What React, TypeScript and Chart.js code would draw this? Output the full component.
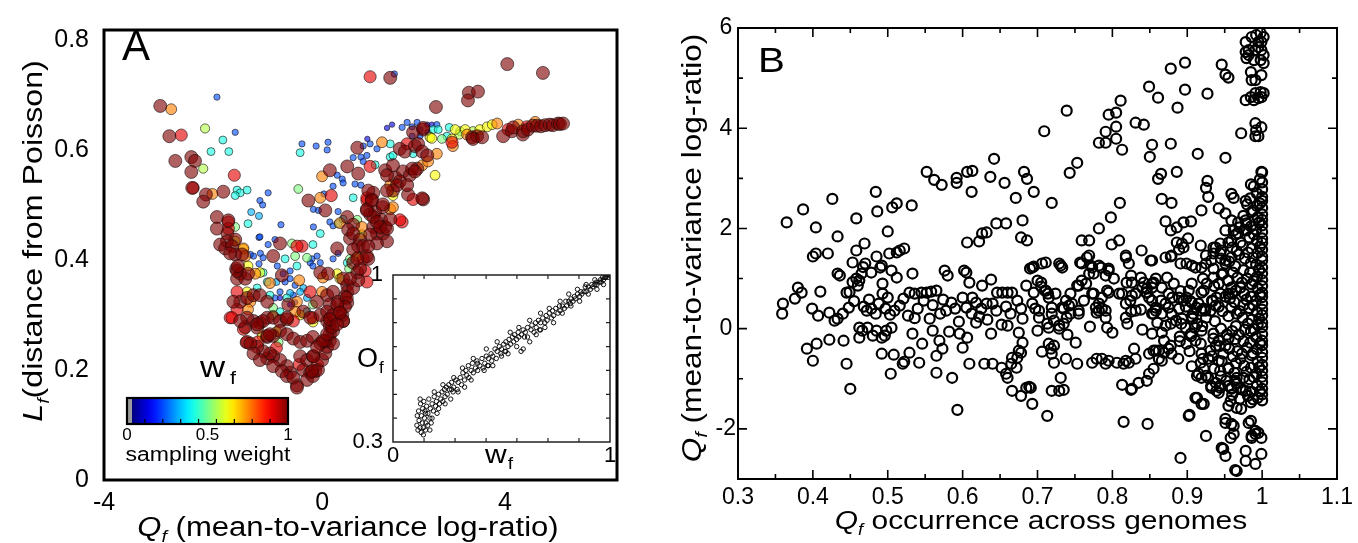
import React, { useEffect, useRef } from "react";
import { Chart, registerables } from "chart.js";
Chart.register(...registerables);

const FONT = "'Liberation Sans', Arial, Helvetica, sans-serif";

// ---------------- Panel A : Q_f (x) vs L_f (y), grouped by sampling weight w_f ----------------
const aXRange = [-4.77, 6.45];
const aYRange = [0, 0.818];
const aTicksX = [-4.77, 0, 4];
const aTickLabelsX = ["-4", "0", "4"];
const aTicksY = [0, 0.2, 0.4, 0.6, 0.8];

const ptsW100 = [
  [-3.54, .68], [-3.34, .625], [-3.21, .58], [-2.86, .587], [-2.78, .58], [-2.86, .56], [-2.54, .519], [-2.60, .506], [-2.16, .524], [-2.84, .531],
  [-2.30, .478], [-2.30, .457], [-2.07, .448], [-1.90, .437], [-2.08, .434], [-2.23, .428], [-2.12, .421], [-1.97, .425], [-1.90, .41], [-2.01, .412],
  [-1.75, .41], [-1.88, .384], [-1.79, .375], [-1.86, .366], [-1.68, .366], [-1.86, .38], [-1.84, .389], [-1.62, .375], [-0.92, .43], [-1.07, .407],
  [-0.88, .372], [-2.05, .472], [-1.79, .324], [-1.64, .331], [-1.50, .336], [-1.36, .336], [-1.20, .324], [-0.74, .319], [-0.11, .324], [0.11, .336],
  [0.17, .319], [-1.94, .324], [-1.68, .278], [-1.64, .251], [-1.50, .289], [-1.36, .286], [-1.42, .277], [-1.20, .295], [-1.64, .295], [-1.79, .289],
  [-1.29, .289], [-1.42, .283], [-1.07, .295], [-0.92, .289], [-0.77, .292],
  [-0.48, .225], [-0.33, .218], [-0.20, .225], [-0.41, .20], [-0.26, .195], [-0.15, .198], [-0.55, .172], [-0.70, .195], [-0.77, .207], [-0.92, .218],
  [-1.07, .225], [-1.20, .221], [-1.14, .23], [-1.29, .234], [-1.42, .242], [-1.57, .248], [-1.50, .23], [-1.36, .218], [-1.07, .207], [-0.88, .198],
  [-0.77, .189], [-0.63, .186], [-0.33, .182], [-0.20, .189], [-0.09, .20], [0.00, .218], [0.07, .23], [0.11, .242], [0.17, .253], [-1.20, .26],
  [-1.07, .262], [-0.92, .271], [-0.77, .265], [-0.63, .257], [-0.48, .251], [-0.33, .253], [-0.20, .26], [-0.04, .248], [0.17, .265], [0.24, .248],
  [0.07, .253], [0.11, .289], [0.17, .28], [0.24, .271], [-0.77, .295], [-0.04, .30], [0.11, .306], [0.24, .30], [-0.41, .306], [-0.26, .295],
  [0.44, .30], [0.46, .289], [-1.20, .262], [-1.14, .265], [-0.55, .168], [-0.22, .198], [-0.19, .225], [-0.11, .242], [0.02, .253], [0.11, .265],
  [0.22, .278], [0.17, .292],
  [0.07, .49], [0.17, .563], [0.55, .57], [0.77, .604], [0.79, .557], [1.38, .563], [1.60, .55], [1.09, .51], [1.12, .522], [1.01, .526],
  [0.98, .492], [1.05, .483], [1.16, .487], [1.33, .496], [1.29, .473], [1.38, .46], [1.12, .46], [1.20, .448], [1.05, .446], [1.33, .448],
  [1.42, .434], [1.20, .43], [0.55, .478], [0.68, .464], [0.57, .455], [0.61, .439], [0.68, .448], [0.83, .437], [0.79, .425], [0.68, .419],
  [0.90, .425], [1.01, .402], [0.55, .354], [0.55, .342], [0.68, .349], [0.46, .366], [0.50, .333], [0.55, .322], [0.24, .342], [0.35, .324],
  [0.46, .289], [0.33, .283], [-0.04, .377], [0.13, .375], [0.33, .421], [0.68, .395], [0.77, .377], [0.79, .363], [-0.30, .508], [0.61, .366],
  [0.83, .384], [0.54, .331], [0.50, .315], [0.33, .319], [0.39, .304], [0.98, .407], [0.77, .402], [1.01, .425], [1.12, .478], [1.20, .469],
  [1.27, .46], [1.42, .457], [0.98, .49], [1.09, .508], [1.49, .474], [1.33, .501], [2.21, .51], [1.77, .561], [2.08, .566], [1.92, .554],
  [1.70, .602], [1.81, .597], [2.03, .607], [2.10, .611], [2.21, .637], [2.19, .597], [2.30, .59], [1.97, .566], [2.03, .561], [2.19, .512],
  [1.55, .572], [1.42, .554], [1.70, .543], [1.64, .536], [1.55, .526], [1.42, .526], [1.88, .519], [1.86, .536], [1.99, .632], [2.21, .64],
  [3.28, .623], [3.39, .625], [3.30, .62], [3.50, .623], [3.96, .625], [4.15, .634], [4.18, .641], [4.39, .628], [4.40, .634], [4.50, .637],
  [4.61, .644], [4.70, .644], [4.79, .643], [4.88, .645], [4.98, .646], [5.05, .645], [5.16, .648], [5.20, .647], [5.27, .648],
  [1.49, .731], [2.49, .678], [3.21, .704], [3.41, .706], [3.19, .69], [4.05, .756], [4.83, .74],
];
const ptsW90 = [
  [-3.08, .627], [-1.92, .554], [-2.82, .531], [-2.05, .469], [-0.44, .425], [0.20, .517], [0.98, .508], [1.75, .469], [1.86, .611], [4.07, .637],
  [4.48, .642], [-1.86, .342], [-2.01, .295], [-1.86, .31], [-1.40, .251], [-1.66, .25], [-1.72, .274], [-1.97, .295], [-0.63, .289], [-0.20, .295],
  [0.17, .295], [-0.26, .342], [-0.55, .425], [0.90, .402], [0.94, .38], [0.98, .36], [0.39, .306], [1.05, .733], [-2.05, .457], [2.84, .614],
  [1.05, .57], [1.70, .473], [1.99, .51], [0.98, .513], [-0.50, .21], [-0.10, .21], [-1.0, .24],
];
const ptsW75 = [
  [-3.30, .674], [-2.40, .52], [-1.72, .421], [-1.68, .407], [-1.46, .375], [-1.57, .324], [-0.50, .363], [-0.55, .324], [0.02, .368], [0.00, .552],
  [0.39, .467], [0.87, .46], [1.31, .614], [1.49, .492], [1.49, .536], [2.51, .593], [2.19, .572], [3.17, .628], [3.83, .648], [4.29, .646],
  [4.66, .651], [2.86, .607], [-1.14, .358], [-1.62, .31], [-0.59, .306], [0.00, .342], [-0.04, .513], [2.32, .579], [1.55, .496],
];
const ptsW62 = [
  [-1.90, .434], [-1.72, .42], [-1.36, .377], [-1.64, .342], [-1.31, .262], [-0.48, .30], [-0.20, .287], [0.33, .375], [0.39, .366], [0.87, .446],
  [0.77, .407], [2.47, .554], [1.55, .517], [2.36, .623], [2.91, .637], [3.13, .637], [3.45, .637], [3.61, .642], [3.72, .646], [2.84, .62],
  [2.40, .621], [-1.62, .389], [-1.0, .27],
];
const ptsW55 = [[-2.60, .566], [-2.56, .639], [3.30, .634], [-1.07, .30], [3.00, .628]];
const ptsW50 = [
  [-1.90, .46], [-0.66, .43], [-0.59, .407], [-0.33, .404], [0.61, .402], [0.59, .384], [0.77, .473], [-0.52, .529], [-0.20, .319], [2.62, .62],
  [3.02, .634], [-1.07, .313], [-0.95, .25],
];
const ptsW40 = [
  [-2.17, .618], [-2.04, .597], [-2.43, .597], [-1.86, .527], [-1.79, .522], [-1.64, .527], [-1.90, .517], [-1.62, .466], [-1.29, .377], [-1.20, .36],
  [-0.55, .389], [-0.81, .402], [-0.20, .428], [0.35, .466], [0.46, .474], [0.55, .395], [0.68, .513], [1.16, .573], [1.49, .611], [1.49, .587],
  [1.55, .59], [1.99, .593], [2.43, .637], [2.54, .637], [2.73, .625], [2.78, .641], [-1.42, .349], [-1.14, .336], [-0.77, .331], [-0.92, .306],
  [-0.33, .306], [-0.48, .595], [-0.04, .448],
];
const ptsW30 = [[-1.55, .487], [-1.38, .48], [-0.41, .349], [-0.33, .331], [-0.48, .342], [-1.0, .36], [-0.7, .34]];
const ptsW20 = [
  [-1.90, .632], [-2.30, .696], [-1.18, .522], [-1.36, .508], [-1.30, .50], [-0.90, .464], [-1.38, .441], [-1.18, .428], [-1.03, .437], [-1.50, .407],
  [-1.35, .412], [-1.38, .393], [-1.29, .404], [-0.98, .389], [-0.81, .36], [-0.22, .402], [-0.11, .407], [-0.04, .395], [0.24, .402], [0.35, .412],
  [0.17, .469], [0.35, .488], [0.04, .52], [0.24, .534], [0.33, .554], [0.44, .547], [0.46, .54], [0.68, .586], [0.85, .587], [0.90, .579],
  [0.98, .59], [0.90, .607], [1.05, .611], [1.20, .602], [0.72, .538], [0.85, .536], [-0.19, .492], [-0.08, .49], [0.24, .462], [-0.19, .46],
  [-0.44, .611], [-0.13, .607], [0.13, .614], [0.11, .60], [1.97, .625], [2.14, .625], [2.32, .632], [2.51, .646], [1.75, .641], [1.86, .65],
  [1.97, .642], [2.08, .65], [2.14, .637], [1.58, .738], [-1.03, .331], [-0.92, .342], [-0.63, .336], [-0.70, .366], [-0.59, .354], [-0.26, .395],
  [-0.20, .389], [-0.85, .375], [-0.70, .38], [-1.36, .442], [-1.57, .41],
];
const ptsW10 = [[1.42, .64], [1.53, .646], [2.40, .646], [2.30, .646], [-0.70, .319], [-0.59, .323], [-0.92, .331], [0.99, .62]];

const weightGroups = [
  { w: 1.0, pts: ptsW100 }, { w: 0.9, pts: ptsW90 }, { w: 0.75, pts: ptsW75 }, { w: 0.62, pts: ptsW62 }, { w: 0.55, pts: ptsW55 },
  { w: 0.5, pts: ptsW50 }, { w: 0.4, pts: ptsW40 }, { w: 0.3, pts: ptsW30 }, { w: 0.2, pts: ptsW20 }, { w: 0.1, pts: ptsW10 },
];
const colorbarTicks = [0, 0.5, 1];
const colorbarLabels = ["0", "0.5", "1"];

// ---------------- Inset : O_f vs w_f ----------------
const insetTickMarksX = [0.143, 0.286, 0.429, 0.571, 0.714, 0.857];
const insetTickMarksY = [0.4, 0.5, 0.6, 0.7, 0.8, 0.9];
const overlapPts = [
  [.11, .37], [.112, .41], [.115, .35], [.12, .39], [.118, .43], [.125, .36], [.127, .46], [.13, .34], [.131, .41], [.135, .38], [.137, .44], [.14, .36],
  [.142, .47], [.145, .40], [.147, .43], [.15, .35], [.152, .38], [.155, .45], [.16, .37], [.161, .42], [.165, .48], [.17, .40], [.172, .44], [.176, .38],
  [.18, .46], [.186, .43], [.19, .49], [.196, .45], [.20, .47], [.203, .42], [.21, .50], [.214, .46], [.22, .48], [.226, .51], [.23, .47], [.237, .52],
  [.24, .49], [.246, .53], [.25, .50], [.257, .54], [.26, .52], [.266, .48], [.27, .55], [.277, .51], [.28, .53], [.29, .56], [.296, .52], [.30, .55],
  [.31, .57], [.316, .54], [.322, .59], [.33, .56], [.336, .60], [.34, .58], [.347, .62], [.35, .57], [.36, .60], [.366, .63], [.37, .59], [.38, .61],
  [.387, .64], [.39, .60], [.40, .62], [.41, .65], [.415, .61], [.423, .63], [.43, .66], [.436, .62], [.44, .65], [.452, .67], [.455, .64], [.46, .66],
  [.47, .69], [.476, .65], [.48, .68], [.49, .70], [.497, .67], [.50, .69], [.51, .71], [.516, .68], [.52, .72], [.53, .70], [.535, .73], [.542, .71],
  [.55, .74], [.556, .72], [.56, .75], [.57, .73], [.577, .76], [.58, .74], [.59, .68], [.60, .69], [.592, .75], [.60, .77], [.606, .74], [.61, .76],
  [.62, .78], [.63, .72], [.636, .77], [.64, .79], [.65, .76], [.657, .80], [.66, .78], [.67, .81], [.676, .77], [.68, .80], [.69, .82], [.70, .80],
  [.706, .83], [.71, .81], [.72, .84], [.73, .82], [.736, .85], [.74, .83], [.75, .86], [.76, .84], [.767, .87], [.77, .85], [.78, .87], [.79, .86],
  [.796, .89], [.80, .87], [.81, .89], [.817, .88], [.82, .90], [.83, .89], [.836, .91], [.84, .90], [.85, .92], [.86, .91], [.866, .93], [.87, .92],
  [.88, .93], [.886, .95], [.89, .93], [.90, .95], [.91, .94], [.916, .96], [.92, .95], [.93, .96], [.937, .97], [.94, .96], [.95, .97], [.956, .98],
  [.96, .97], [.966, .99], [.97, .98], [.976, .99], [.98, .99], [.986, 1.0], [.99, .99], [.995, 1.0], [1.0, 1.0], [.44, .62], [.52, .68], [.68, .77],
  [.15, .42], [.18, .40], [.21, .44], [.24, .46], [.27, .52], [.30, .51], [.33, .53], [.36, .56], [.39, .63], [.42, .60], [.46, .62], [.50, .66],
  [.53, .67], [.57, .70], [.62, .74], [.66, .75], [.70, .78], [.74, .80], [.78, .84], [.82, .87], [.86, .89], [.90, .92], [.94, .94], [.97, .96],
  [.14, .33], [.17, .35], [.125, .48], [.19, .51], [.23, .54], [.28, .57], [.32, .61], [.37, .65], [.43, .69], [.48, .72], [.54, .76], [.58, .78],
  [.63, .81], [.68, .84], [.72, .86], [.77, .89], [.81, .92], [.85, .94], [.89, .96], [.93, .98],
];

// ---------------- Panel B : occurrence (x) vs Q_f (y) ----------------
const bTicksX = [0.3, 0.4, 0.5, 0.6, 0.7, 0.8, 0.9, 1.0, 1.1];
const bMinorX = [0.35, 0.45, 0.55, 0.65, 0.75, 0.85, 0.95, 1.05];
const bTicksY = [-2, 0, 2, 4, 6];
const bMinorY = [-3, -1, 1, 3, 5];

const occLeft = [
  [.360, .50], [.359, .30], [.380, .82], [.385, .72], [.376, .60], [.410, .74], [.399, .40], [.407, .26], [.422, .32], [.429, .16], [.433, .20], [.440, .30],
  [.445, .72], [.433, 1.10], [.436, 1.06], [.392, -.40], [.405, -.30], [.400, -.64], [.422, -.22], [.441, -.24], [.445, -.70], [.450, -1.20], [.365, 2.12],
  [.387, 2.38], [.404, 2.02], [.426, 2.59], [.433, 1.84], [.400, 1.44], [.404, 1.50], [.420, 1.50], [.458, 2.20], [.484, 2.73], [.486, 2.34], [.500, 1.94],
  [.506, 2.42], [.512, 2.50], [.532, 2.46], [.458, 1.56], [.469, 1.70], [.453, 1.32], [.470, 1.30], [.485, 1.44], [.490, 1.22], [.502, 1.50], [.512, 1.52],
  [.516, 1.56], [.522, 1.60], [.533, 1.10], [.462, .96], [.460, .86], [.465, 1.10], [.478, 1.12], [.492, 1.26], [.493, .90], [.493, .70], [.505, 1.16],
  [.512, 1.02], [.529, .72], [.536, .70], [.545, .72], [.552, .72], [.558, .74], [.565, .76], [.574, .58], [.576, 1.16], [.580, 1.06], [.449, .73],
  [.453, .93], [.458, 1.0], [.467, 1.23],
  [.468, .44], [.472, .36], [.478, .40], [.484, .30], [.488, .50], [.497, .40], [.503, .28], [.509, .36], [.516, .46], [.521, .60], [.527, .26], [.50, .62],
  [.475, .58], [.455, .55], [.448, .42], [.536, .21], [.540, .40], [.548, .56], [.556, .20], [.560, .47], [.570, .30], [.578, .36], [.585, .52], [.590, .40],
  [.595, .14],
  [.462, .02], [.462, -.18], [.466, -.04], [.473, .02], [.480, -.14], [.485, -.04], [.492, -.18], [.496, -.14], [.498, -.04], [.505, .02], [.492, -.50],
  [.508, -.52], [.520, -.70], [.522, -.66], [.529, -.48], [.542, -.68], [.504, -.90], [.533, -.10], [.546, -.30], [.560, -.04], [.569, -.24], [.573, -.40],
  [.565, -.54], [.565, -.88], [.586, -.98], [.582, -.06], [.596, -.10], [.593, -1.62],
  [.552, 3.13], [.562, 2.97], [.572, 2.87], [.592, 3.01], [.592, 2.91],
];
const occMid = [
  [.602, 1.16], [.605, 1.12], [.609, .92], [.600, .62], [.605, .42], [.613, .62], [.618, .52], [.626, .86], [.638, .98], [.622, .24], [.632, .50], [.640, .50],
  [.646, .72], [.653, .72], [.660, .72], [.666, .72], [.673, .56], [.678, .40], [.680, .20], [.685, .86], [.693, 1.22], [.695, .72], [.705, .92], [.706, 1.30],
  [.729, 1.30], [.733, 1.22], [.719, .42], [.719, .30], [.702, .36], [.702, .22], [.713, .10], [.715, .02], [.722, .16], [.729, .00], [.735, .10], [.739, .22],
  [.735, .40], [.742, .46], [.746, .50], [.755, .36], [.762, .56], [.753, .86], [.759, .96], [.769, 1.10], [.773, 1.22], [.759, 1.30], [.769, 1.46], [.775, .70],
  [.612, .30], [.618, .12], [.625, .40], [.633, .18], [.645, .36], [.652, .08], [.658, .44], [.664, .30], [.69, 1.2], [.70, .96], [.705, .84], [.71, .76],
  [.714, .70], [.693, .50], [.697, .40], [.711, .76], [.715, .62], [.724, .70], [.733, .42], [.738, .56], [.744, .70], [.755, .86], [.765, .90], [.775, 1.10],
  [.782, 1.26], [.791, 1.06], [.793, .76], [.786, .62], [.778, .42], [.782, .36], [.791, .22], [.773, .70], [.755, .30], [.744, .30], [.729, .06],
  [.66, .06], [.70, -.04], [.74, -.12], [.77, .04],
  [.600, -.38], [.606, -.18], [.609, -.70], [.629, -.70], [.640, -.70], [.652, -.78], [.660, -.98], [.665, -.70], [.666, -.58], [.672, -.78], [.675, -.44],
  [.680, -.28], [.638, -.10], [.666, -1.24], [.678, -1.34], [.685, -1.18], [.691, -1.18], [.693, -1.50], [.713, -1.74], [.706, -.46], [.718, -.40],
  [.722, -.34], [.722, -.68], [.731, -.98], [.729, -1.24], [.735, -1.22], [.738, -.60], [.751, -.28], [.753, -.70], [.658, -.90], [.673, -.58], [.678, -.48],
  [.675, -.08], [.689, -1.16], [.715, -.30], [.719, -.50], [.719, -1.24],
  [.739, 4.35], [.709, 3.94], [.642, 3.39], [.637, 3.03], [.656, 2.91], [.671, 2.61], [.682, 3.13], [.686, 2.99], [.695, 2.73], [.719, 2.51], [.743, 3.11],
  [.753, 3.31], [.769, 1.76], [.759, 1.76], [.606, 1.72], [.622, 1.74], [.626, 1.90], [.632, 1.92], [.645, 2.10], [.658, 2.10], [.680, 2.16], [.678, 1.82],
  [.686, 1.76], [.606, 3.13], [.613, 3.15], [.612, 2.73], [.695, 1.24], [.711, 1.32], [.731, 1.26], [.757, 1.32], [.766, 1.42], [.771, 1.26],
];
const occUpper = [
  [.782, .50], [.786, .40], [.779, .32], [.791, .36], [.793, .02], [.785, 1.22], [.795, 1.16], [.802, 1.00], [.795, .72], [.813, .70], [.819, .92], [.825, 1.06],
  [.826, .92], [.818, 1.42], [.822, 1.30], [.839, 1.56], [.838, 1.02], [.842, .92], [.846, .80], [.853, .82], [.855, .92], [.818, .22], [.825, .34], [.831, .36],
  [.838, .38], [.855, .30], [.826, .66], [.845, .72], [.853, 1.36], [.795, 1.20], [.809, 1.76], [.851, 1.36], [.818, 1.46], [.809, .70], [.818, .50],
  [.824, .56], [.831, .70], [.840, .82], [.846, .72], [.853, .56], [.858, .36], [.871, .50], [.880, .62], [.889, .62], [.895, .56], [.902, .76], [.898, .44],
  [.906, .24], [.915, .50], [.924, .36], [.933, .56], [.942, .44], [.951, .64], [.960, .70], [.80, -.08], [.82, .10], [.84, -.02], [.86, .12], [.89, -.16],
  [.91, .02], [.935, -.10],
  [.773, -.68], [.779, -.60], [.786, -.60], [.791, -.70], [.795, -.64], [.815, -.70], [.822, -.68], [.831, -.60], [.829, -.40], [.813, -1.12], [.825, -1.22],
  [.835, -1.08], [.846, -1.04], [.855, -.80], [.815, -1.86], [.847, -1.90], [.855, -.44], [.853, -.10], [.806, -.68], [.818, -.64], [.826, -1.20],
  [.858, -.44], [.862, -.60], [.869, -.48], [.875, -.40], [.879, -.50],
  [.782, 3.71], [.791, 3.71], [.791, 3.93], [.795, 4.27], [.805, 4.31], [.805, 4.03], [.805, 3.79], [.813, 3.57], [.811, 4.55], [.831, 4.11], [.842, 4.07],
  [.853, 3.67], [.850, 3.43], [.810, 2.51], [.798, 2.22], [.782, 2.00], [.799, 1.68], [.849, 4.83], [.861, 4.61], [.878, 5.19], [.897, 5.31], [.897, 4.77],
  [.887, 4.41], [.878, 3.69], [.914, 3.49], [.927, 4.69], [.946, 5.27], [.951, 5.07], [.955, 5.01], [.951, 3.41], [.865, 3.09], [.861, 2.99], [.886, 3.13],
  [.866, 2.59], [.879, 2.51], [.919, 2.36], [.927, 2.95], [.925, 2.81], [.928, 2.63], [.942, 2.40], [.951, 2.30], [.959, 2.69], [.962, 2.61], [.978, 2.55],
  [.871, 2.14], [.878, 1.96], [.886, 2.02], [.895, 2.12], [.905, 2.14], [.901, 1.80], [.895, 1.62], [.889, 1.58], [.871, 1.42], [.878, 1.44], [.891, 1.30],
  [.906, 1.26], [.919, 1.22], [.925, 1.30], [.935, 1.50], [.951, 1.96], [.959, 2.16], [.968, 2.12], [.978, 2.16], [.979, 1.96], [.918, 1.66], [.925, 1.46],
  [.935, 1.62], [.945, 1.56], [.951, 1.30], [.959, 1.42], [.893, 1.70], [.886, 1.72], [.879, 1.46], [.899, 1.30], [.911, 1.22], [.938, 1.62], [.944, 1.70],
  [.962, 1.96], [.968, 1.90], [.959, 1.76], [.971, 1.72],
];
const occRight = [
  [.858, 1.00], [.853, .90], [.866, .82], [.873, 1.02], [.882, .90], [.875, .70], [.865, .56], [.875, .42], [.879, .30], [.866, .30], [.858, .42], [.849, .62],
  [.853, .30], [.899, .62], [.906, .52], [.912, .42], [.908, .30], [.919, .36], [.925, .22], [.931, .36], [.938, .46], [.939, .62], [.942, .90], [.935, 1.02],
  [.926, .90], [.922, .76], [.932, 1.36], [.944, 1.50], [.951, 1.36], [.948, 1.10], [.955, .96], [.959, .82], [.955, .70], [.893, .20], [.898, .02],
  [.905, -.10], [.911, -.24], [.899, -.30], [.919, -.04], [.913, .10], [.866, -.08], [.871, .06], [.878, .10], [.885, .16], [.869, -.24], [.878, -.34],
  [.862, -.44], [.849, -.50], [.866, -.64], [.849, -.90], [.919, -.50], [.931, -.44], [.938, -.34], [.942, -.24], [.928, -.60], [.918, -.68], [.922, -.80],
  [.942, -.64], [.948, -.50], [.951, -.34], [.955, -.20], [.944, -.84], [.955, -.78], [.915, -.90], [.919, -.98], [.925, -.94], [.932, -1.14], [.939, -1.24],
  [.944, -1.18], [.952, -1.04], [.959, -1.18], [.966, -.98], [.958, -1.44], [.913, -1.38], [.919, -1.50], [.902, -1.74], [.925, -2.14], [.951, -1.80],
  [.962, -1.94], [.958, -2.18], [.946, -2.38], [.951, -2.54], [.982, -1.88], [.986, -2.14], [.991, -2.04], [.999, -2.18], [.978, -2.44], [.966, -2.84],
  [.999, -2.50], [.891, -2.58], [.903, -1.72], [.911, -1.38], [.922, -1.50], [.948, -2.40], [.951, -1.88], [.959, -1.90], [.962, -2.10],
  [.955, -1.54], [.966, -1.58], [.972, -1.60], [.964, -2.82], [.978, -2.64], [.991, -2.70], [.985, -1.84], [.986, -2.18], [.995, -2.08], [.991, -2.10],
  [.932, -1.18], [.942, -1.28], [.938, -1.08], [.944, -1.14], [.955, -1.14], [.964, -1.04], [.959, -1.20], [.971, -1.18], [.978, -1.24], [.913, -.94],
  [.928, -.98],
];
const occTop = [
  [.978, 5.72], [.986, 5.82], [.992, 5.86], [.998, 5.90], [1.002, 5.82], [.999, 5.72], [.995, 5.62], [.991, 5.56], [.982, 5.56], [.979, 5.40], [.989, 5.36],
  [.998, 5.36], [1.002, 5.46], [.999, 5.56], [.995, 5.72], [1.002, 5.30], [.982, 5.46], [.978, 5.52], [.985, 5.12], [.991, 4.96], [.999, 5.06], [.986, 4.96],
  [.978, 4.56], [.985, 4.62], [.989, 4.56], [.991, 4.70], [.998, 4.72], [1.002, 4.70], [.995, 4.60], [.999, 4.62], [.972, 3.90], [.991, 4.10], [.992, 3.96],
  [.999, 4.02], [.995, 3.84], [.991, 3.84], [.999, 3.13],
];
const occCore = [
  [1.0, 3.12], [1.0, 2.92], [1.0, 2.78], [1.0, 2.63], [1.0, 2.55], [1.0, 2.41], [1.0, 2.28], [1.0, 2.17], [1.0, 2.06], [1.0, 1.93], [1.0, 1.80], [1.0, 1.71],
  [1.0, 1.58], [1.0, 1.44], [1.0, 1.36], [1.0, 1.22], [1.0, 1.10], [1.0, .97], [1.0, .85], [1.0, .72], [1.0, .63], [1.0, .50], [1.0, .38], [1.0, .27],
  [1.0, .12], [1.0, .03], [1.0, -.11], [1.0, -.24], [1.0, -.33], [1.0, -.47], [1.0, -.58], [1.0, -.72], [1.0, -.84], [1.0, -.96], [1.0, -1.07], [1.0, -1.20],
  [1.0, -1.31], [1.0, -1.43],
  [.993, 2.70], [.993, 2.45], [.994, 2.22], [.992, 1.98], [.993, 1.75], [.994, 1.51], [.992, 1.28], [.993, 1.03], [.994, .81], [.992, .56], [.993, .33],
  [.994, .08], [.992, -.17], [.993, -.41], [.994, -.66], [.992, -.90], [.993, -1.13], [.994, -1.38],
  [.985, 2.88], [.984, 2.60], [.986, 2.33], [.985, 2.04], [.983, 1.82], [.986, 1.60], [.985, 1.31], [.984, 1.12], [.986, .89], [.985, .64], [.983, .41],
  [.986, .18], [.985, -.05], [.984, -.28], [.986, -.53], [.985, -.78], [.983, -1.01], [.986, -1.26], [.985, -1.47],
  [.975, 2.25], [.976, 1.97], [.974, 1.66], [.977, 1.40], [.975, 1.17], [.973, .92], [.976, .70], [.975, .47], [.974, .22], [.977, -.02], [.975, -.25],
  [.973, -.50], [.976, -.74], [.975, -.98], [.974, -1.22],
  [.965, 1.88], [.966, 1.55], [.964, 1.25], [.967, 1.02], [.965, .76], [.963, .53], [.966, .30], [.965, .05], [.964, -.21], [.967, -.45], [.965, -.69],
  [.963, -.88], [.966, -1.10],
  [.955, 1.72], [.956, 1.34], [.954, .96], [.957, .60], [.955, .25], [.953, -.12], [.956, -.40], [.955, -.80],
  [.945, 1.40], [.946, 1.08], [.944, .70], [.947, .35], [.945, .00], [.943, -.35], [.946, -.65], [.945, -.95],
  [.935, 1.20], [.936, .85], [.934, .55], [.937, .15], [.935, -.20], [.933, -.55], [.936, -.80],
  [.921, 1.00], [.919, .72], [.922, .40], [.920, .05], [.918, -.30], [.921, -.60],
  [.906, .90], [.904, .55], [.907, .20], [.905, -.15], [.903, -.45], [.906, -.75],
  [.891, .75], [.889, .40], [.892, .10], [.890, -.25], [.888, -.60],
  [.997, 2.98], [.997, 2.50], [.996, 2.12], [.997, 1.64], [.996, 1.17], [.997, .68], [.996, .20], [.997, -.29], [.996, -.77], [.997, -1.25],
  [.989, 2.84], [.988, 2.36], [.989, 1.88], [.988, 1.42], [.989, .95], [.988, .47], [.989, -.01], [.988, -.49], [.989, -.97], [.988, -1.41],
  [.980, 2.48], [.979, 2.10], [.981, 1.52], [.980, 1.00], [.979, .58], [.981, .10], [.980, -.38], [.979, -.86], [.981, -1.34],
  [.970, 2.02], [.969, 1.48], [.971, .82], [.970, .35], [.969, -.12], [.971, -.60], [.970, -1.40],
  [.960, 1.62], [.961, 1.12], [.959, .42], [.960, -.05], [.961, -.55], [.960, -1.32],
];

// ---------------- helpers ----------------
function jet(t: number, a = 1) {
  const c = (v: number) => Math.max(0, Math.min(1, v));
  const r = c(1.5 - Math.abs(4 * t - 3));
  const g = c(1.5 - Math.abs(4 * t - 2));
  const b = c(1.5 - Math.abs(4 * t - 1));
  return `rgba(${Math.round(r * 255)},${Math.round(g * 255)},${Math.round(b * 255)},${a})`;
}

type Run = { t: string; it?: boolean; sub?: boolean; dx?: number };
function drawRich(ctx: CanvasRenderingContext2D, runs: Run[], x: number, y: number, size: number,
  o: { align?: "left" | "center" | "right"; rot?: number; sx?: number } = {}) {
  ctx.save();
  ctx.translate(x, y);
  if (o.rot) ctx.rotate(o.rot);
  ctx.scale(o.sx ?? 1, 1);
  const fontFor = (r: Run) => `${r.it ? "italic " : ""}${r.sub ? Math.round(size * 0.62) : size}px ${FONT}`;
  let total = 0;
  const ws = runs.map((r) => {
    ctx.font = fontFor(r);
    const w = ctx.measureText(r.t).width + (r.dx ?? 0);
    total += w;
    return w;
  });
  let cx = o.align === "center" ? -total / 2 : o.align === "right" ? -total : 0;
  ctx.fillStyle = "#000";
  ctx.textAlign = "left";
  ctx.textBaseline = "alphabetic";
  runs.forEach((r, i) => {
    ctx.font = fontFor(r);
    ctx.fillText(r.t, cx + (r.dx ?? 0), r.sub ? size * 0.24 : 0);
    cx += ws[i];
  });
  ctx.restore();
}

type TickSpec = { v: number; len: number };
function frameTicksPlugin(cfg: { frame: number; color: string; tickW: number; xt: TickSpec[]; yt: TickSpec[]; fill?: boolean }) {
  return {
    id: "frameTicks",
    beforeDraw(chart: any) {
      if (!cfg.fill) return;
      const { ctx, chartArea: a } = chart;
      ctx.save();
      ctx.fillStyle = "#fff";
      ctx.fillRect(a.left, a.top, a.right - a.left, a.bottom - a.top);
      ctx.restore();
    },
    afterDatasetsDraw(chart: any) {
      const { ctx, chartArea: a, scales } = chart;
      ctx.save();
      ctx.strokeStyle = cfg.color;
      ctx.lineWidth = cfg.tickW;
      ctx.beginPath();
      for (const t of cfg.xt) {
        const px = scales.x.getPixelForValue(t.v);
        ctx.moveTo(px, a.bottom); ctx.lineTo(px, a.bottom - t.len);
        ctx.moveTo(px, a.top); ctx.lineTo(px, a.top + t.len);
      }
      for (const t of cfg.yt) {
        const py = scales.y.getPixelForValue(t.v);
        ctx.moveTo(a.left, py); ctx.lineTo(a.left + t.len, py);
        ctx.moveTo(a.right, py); ctx.lineTo(a.right - t.len, py);
      }
      ctx.stroke();
      ctx.lineWidth = cfg.frame;
      ctx.strokeRect(a.left, a.top, a.right - a.left, a.bottom - a.top);
      ctx.restore();
    },
  };
}

const toXY = (arr: number[][]) => arr.map(([x, y]) => ({ x, y }));
const fmt1 = (v: number) => {
  const r = Math.round(v * 10) / 10;
  return Number.isInteger(r) ? String(r) : r.toFixed(1);
};

function makeA(canvas: HTMLCanvasElement) {
  const textPlugin = {
    id: "aText",
    afterDraw(chart: any) {
      const ctx: CanvasRenderingContext2D = chart.ctx;
      drawRich(ctx, [{ t: "A" }], 122, 60, 42);
      drawRich(ctx, [{ t: "L", it: true }, { t: "f", it: true, sub: true }, { t: "(distance from Poisson)" }], 42, 241, 28,
        { align: "center", rot: -Math.PI / 2, sx: 1.15 });
      drawRich(ctx, [{ t: "Q", it: true }, { t: "f", it: true, sub: true }, { t: " (mean-to-variance log-ratio)" }], 348, 536, 27,
        { align: "center", sx: 1.15 });
      // colour bar
      const L = 127, R = 288, T = 398, B = 424, G = 132;
      ctx.save();
      ctx.fillStyle = "#9c9c9c";
      ctx.fillRect(L, T, G - L, B - T);
      const grad = ctx.createLinearGradient(G, 0, R, 0);
      for (let i = 0; i <= 20; i++) grad.addColorStop(i / 20, jet(i / 20));
      ctx.fillStyle = grad;
      ctx.fillRect(G, T, R - G, B - T);
      ctx.strokeStyle = "#000";
      ctx.lineWidth = 1.2;
      ctx.beginPath();
      for (let k = 1; k <= 8; k++) {
        const x = L + (k * (R - L)) / 9;
        ctx.moveTo(x, B); ctx.lineTo(x, B - 5);
      }
      ctx.stroke();
      ctx.lineWidth = 2.2;
      ctx.strokeRect(L, T, R - L, B - T);
      ctx.fillStyle = "#000";
      ctx.font = `17px ${FONT}`;
      ctx.textAlign = "center";
      ctx.textBaseline = "alphabetic";
      colorbarTicks.forEach((v, i) => ctx.fillText(colorbarLabels[i], L + v * (R - L), 440));
      ctx.restore();
      drawRich(ctx, [{ t: "sampling weight" }], 208, 461, 20, { align: "center", sx: 1.15 });
      drawRich(ctx, [{ t: "w" }, { t: "f", sub: true, dx: 4 }], 200, 377, 29, { sx: 1.2 });
    },
  };
  return new Chart(canvas, {
    type: "scatter",
    data: {
      datasets: weightGroups.map((g) => ({
        data: toXY(g.pts),
        pointRadius: 2.3 + 4.2 * g.w,
        backgroundColor: jet(g.w, 0.62),
        borderColor: "rgba(20,10,10,0.6)",
        borderWidth: 1,
      })),
    },
    options: {
      animation: false,
      responsive: false,
      maintainAspectRatio: false,
      layout: { padding: { top: 18, right: 23, left: 0, bottom: 0 } },
      plugins: { legend: { display: false }, tooltip: { enabled: false } },
      scales: {
        x: {
          type: "linear", min: aXRange[0], max: aXRange[1],
          afterBuildTicks: (s: any) => { s.ticks = aTicksX.map((v) => ({ value: v })); },
          ticks: {
            callback: (v: any) => aTickLabelsX[aTicksX.indexOf(v)] ?? String(v),
            font: { size: 25, family: FONT }, color: "#000", padding: 8, maxRotation: 0, autoSkip: false,
          },
          grid: { display: false, drawTicks: false }, border: { display: false },
          afterFit: (s: any) => { s.height = 63; },
        },
        y: {
          min: aYRange[0], max: aYRange[1],
          afterBuildTicks: (s: any) => { s.ticks = aTicksY.map((v) => ({ value: v })); },
          ticks: { callback: (v: any) => fmt1(v), font: { size: 25, family: FONT }, color: "#000", padding: 15, autoSkip: false },
          grid: { display: false, drawTicks: false }, border: { display: false },
          afterFit: (s: any) => { s.width = 104; },
        },
      },
    },
    plugins: [frameTicksPlugin({ frame: 3, color: "#000", tickW: 1, xt: [], yt: [] }), textPlugin],
  } as any);
}

function makeInset(canvas: HTMLCanvasElement) {
  const textPlugin = {
    id: "iText",
    afterDraw(chart: any) {
      const ctx: CanvasRenderingContext2D = chart.ctx;
      drawRich(ctx, [{ t: "O" }, { t: "f", sub: true, dx: 1 }], 57, 117, 27);
      drawRich(ctx, [{ t: "w" }, { t: "f", sub: true, dx: 1 }], 185, 213, 25, { sx: 1.2 });
    },
  };
  return new Chart(canvas, {
    type: "scatter",
    data: {
      datasets: [{
        data: toXY(overlapPts), pointRadius: 2.2, borderWidth: 1,
        borderColor: "rgba(0,0,0,0.9)", backgroundColor: "rgba(0,0,0,0)",
      }],
    },
    options: {
      animation: false, responsive: false, maintainAspectRatio: false,
      layout: { padding: { top: 25, right: 20, left: 0, bottom: 0 } },
      plugins: { legend: { display: false }, tooltip: { enabled: false } },
      scales: {
        x: {
          type: "linear", min: 0, max: 1,
          afterBuildTicks: (s: any) => { s.ticks = [{ value: 0 }, { value: 1 }]; },
          ticks: { callback: (v: any) => String(v), font: { size: 22, family: FONT }, color: "#000", padding: 1, maxRotation: 0, autoSkip: false },
          grid: { display: false, drawTicks: false }, border: { display: false },
          afterFit: (s: any) => { s.height = 38; },
        },
        y: {
          min: 0.3, max: 1,
          afterBuildTicks: (s: any) => { s.ticks = [{ value: 0.3 }, { value: 1 }]; },
          ticks: { callback: (v: any) => fmt1(v), font: { size: 22, family: FONT }, color: "#000", padding: 10, autoSkip: false },
          grid: { display: false, drawTicks: false }, border: { display: false },
          afterFit: (s: any) => { s.width = 93; },
        },
      },
    },
    plugins: [
      frameTicksPlugin({
        frame: 1.5, color: "#222", tickW: 1.2, fill: true,
        xt: insetTickMarksX.map((v) => ({ v, len: 4 })),
        yt: insetTickMarksY.map((v) => ({ v, len: 4 })),
      }),
      textPlugin,
    ],
  } as any);
}

function makeB(canvas: HTMLCanvasElement) {
  const textPlugin = {
    id: "bText",
    afterDraw(chart: any) {
      const ctx: CanvasRenderingContext2D = chart.ctx;
      drawRich(ctx, [{ t: "B" }], 98, 72, 35, { sx: 1.15 });
      drawRich(ctx, [{ t: "Q", it: true }, { t: "f", it: true, sub: true }, { t: " (mean-to-variance log-ratio)" }], 41, 248, 27,
        { align: "center", rot: -Math.PI / 2, sx: 1.17 });
      drawRich(ctx, [{ t: "Q", it: true }, { t: "f", it: true, sub: true }, { t: " occurrence across genomes" }], 381, 529, 26,
        { align: "center", sx: 1.15 });
    },
  };
  return new Chart(canvas, {
    type: "scatter",
    data: {
      datasets: [{
        data: toXY([...occLeft, ...occMid, ...occUpper, ...occRight, ...occTop, ...occCore]),
        pointRadius: 5, borderWidth: 2.2, borderColor: "#000", backgroundColor: "rgba(0,0,0,0)",
      }],
    },
    options: {
      animation: false, responsive: false, maintainAspectRatio: false,
      layout: { padding: { top: 28, right: 19, left: 0, bottom: 0 } },
      plugins: { legend: { display: false }, tooltip: { enabled: false } },
      scales: {
        x: {
          type: "linear", min: 0.3, max: 1.1,
          afterBuildTicks: (s: any) => { s.ticks = bTicksX.map((v) => ({ value: v })); },
          ticks: { callback: (v: any) => fmt1(v), font: { size: 23, family: FONT }, color: "#000", padding: 5, maxRotation: 0, autoSkip: false },
          grid: { display: false, drawTicks: false }, border: { display: false },
          afterFit: (s: any) => { s.height = 64; },
        },
        y: {
          min: -3, max: 6,
          afterBuildTicks: (s: any) => { s.ticks = bTicksY.map((v) => ({ value: v })); },
          ticks: { callback: (v: any) => String(v), font: { size: 23, family: FONT }, color: "#000", padding: 2, crossAlign: "center", autoSkip: false },
          grid: { display: false, drawTicks: false }, border: { display: false },
          afterFit: (s: any) => { s.width = 78; },
        },
      },
    },
    plugins: [
      frameTicksPlugin({
        frame: 2, color: "#000", tickW: 1.6,
        xt: [...bTicksX.map((v) => ({ v, len: 9 })), ...bMinorX.map((v) => ({ v, len: 5 }))],
        yt: [...bTicksY.map((v) => ({ v, len: 9 })), ...bMinorY.map((v) => ({ v, len: 5 }))],
      }),
      textPlugin,
    ],
  } as any);
}

export default function App() {
  const aRef = useRef<HTMLCanvasElement>(null);
  const iRef = useRef<HTMLCanvasElement>(null);
  const bRef = useRef<HTMLCanvasElement>(null);
  useEffect(() => {
    Chart.defaults.font.family = FONT;
    Chart.defaults.color = "#000";
    const charts = [makeA(aRef.current!), makeInset(iRef.current!), makeB(bRef.current!)];
    return () => charts.forEach((c) => c.destroy());
  }, []);
  return (
    <div style={{ position: "absolute", left: 0, top: 0, width: 1358, height: 543, background: "#fff", overflow: "hidden" }}>
      <canvas ref={aRef} width={640} height={543} style={{ position: "absolute", left: 0, top: 0, width: 640, height: 543 }} />
      <canvas ref={iRef} width={330} height={230} style={{ position: "absolute", left: 300, top: 250, width: 330, height: 230 }} />
      <canvas ref={bRef} width={698} height={543} style={{ position: "absolute", left: 660, top: 0, width: 698, height: 543 }} />
    </div>
  );
}
